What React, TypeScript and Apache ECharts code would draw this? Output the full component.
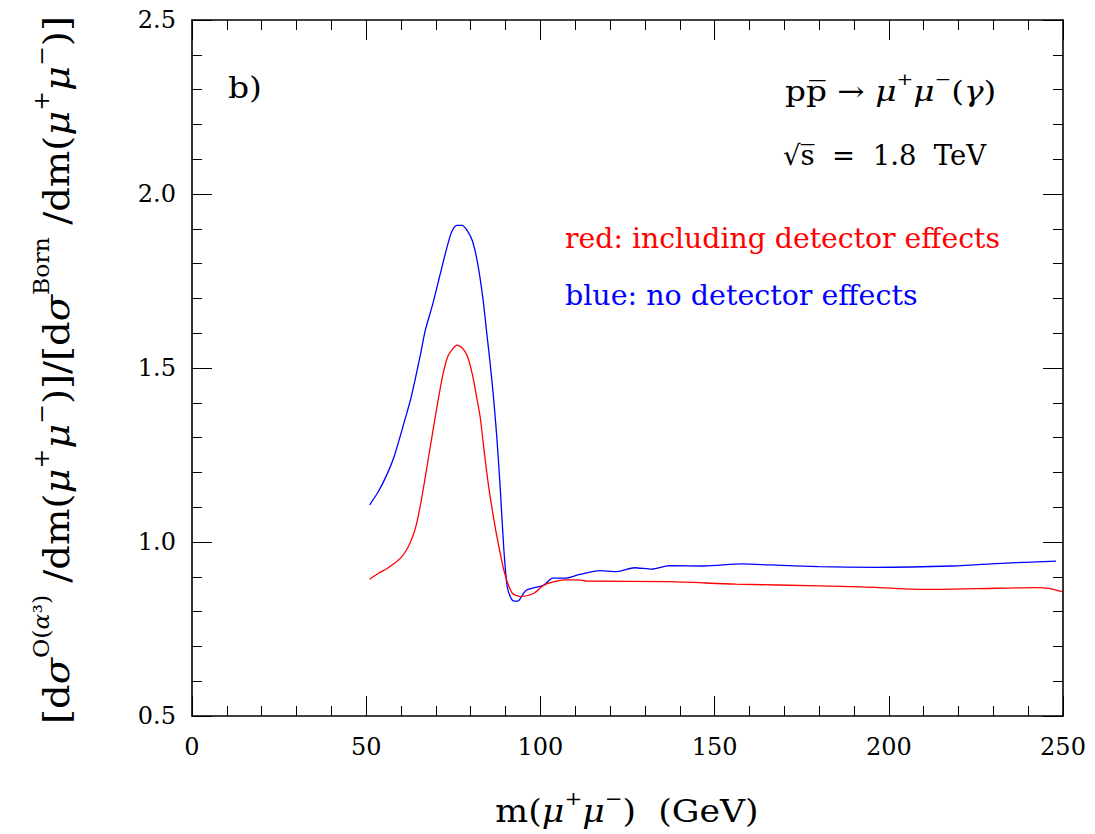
import React, { useEffect, useRef } from "react";
import * as echarts from "echarts";

// ---- data ----
const xTickValues = [0, 50, 100, 150, 200, 250];
const yTickValues = [0.5, 1.0, 1.5, 2.0, 2.5];

const blueMass = [51, 53.5, 56, 58, 60.5, 63, 65.5, 67, 69, 71, 73, 74.5, 76, 77.5, 79, 80.5, 82, 83.5, 84.5, 85.5, 86.5, 87.5, 88.5, 89.5, 90.5, 91.5, 92.5, 93.5, 95, 96, 98, 101, 103.5, 107, 111, 117, 122, 127, 132, 137, 147, 158, 166, 180, 196, 218, 235, 248];
const blueRatio = [1.107, 1.145, 1.195, 1.245, 1.33, 1.42, 1.535, 1.61, 1.68, 1.76, 1.84, 1.89, 1.91, 1.91, 1.895, 1.865, 1.8, 1.7, 1.61, 1.52, 1.42, 1.3, 1.15, 0.98, 0.87, 0.84, 0.83, 0.83, 0.85, 0.862, 0.868, 0.876, 0.896, 0.896, 0.906, 0.918, 0.915, 0.926, 0.922, 0.932, 0.931, 0.937, 0.934, 0.929, 0.927, 0.931, 0.94, 0.945];

const redMass = [51, 53.5, 56, 58, 60, 62, 63.5, 64.5, 66, 68, 70, 72, 73.5, 75, 76, 77.5, 79, 80.5, 82, 82.7, 84, 85, 86.5, 88, 89.5, 90.5, 92, 94.5, 98, 101, 104, 107, 111, 113, 137, 156, 180, 192, 211, 225, 242, 246, 250];
const redRatio = [0.893, 0.91, 0.924, 0.938, 0.955, 0.985, 1.02, 1.054, 1.13, 1.25, 1.37, 1.48, 1.535, 1.557, 1.566, 1.558, 1.535, 1.48, 1.4, 1.36, 1.25, 1.17, 1.073, 0.99, 0.92, 0.885, 0.852, 0.843, 0.852, 0.876, 0.886, 0.891, 0.891, 0.888, 0.886, 0.879, 0.874, 0.871, 0.864, 0.866, 0.869, 0.867, 0.857];

const SERIF = "DejaVu Serif";

function richSet(size: number, supSize: number, lh: number) {
  const n = { fontFamily: SERIF, fontSize: size, color: "#000", verticalAlign: "bottom", lineHeight: lh };
  const g = { ...n, fontStyle: "italic" };
  const s = { fontFamily: SERIF, fontSize: supSize, color: "#000", verticalAlign: "top", lineHeight: lh };
  const sg = { ...s, fontStyle: "italic" };
  return { n, g, s, sg };
}

export default function App() {
  const ref = useRef<HTMLDivElement>(null);

  useEffect(() => {
    const chart = echarts.init(ref.current!, null, { renderer: "svg" });

    const blueData = blueMass.map((m, i) => [m, blueRatio[i]]);
    const redData = redMass.map((m, i) => [m, redRatio[i]]);

    const tickCommon = {
      axisLine: { show: true, onZero: false, lineStyle: { color: "#000", width: 1.6 } },
      axisTick: { show: true, inside: true, length: 20, lineStyle: { color: "#000", width: 1 } },
      minorTick: { show: true, splitNumber: 5, length: 10, lineStyle: { color: "#000", width: 1 } },
      splitLine: { show: false },
      minorSplitLine: { show: false },
    };

    const labelStyle = { fontFamily: SERIF, fontSize: 24, color: "#000" };

    chart.setOption({
      animation: false,
      backgroundColor: "#fff",
      grid: { left: 192, right: 32, top: 20, bottom: 118, containLabel: false },
      xAxis: [
        {
          type: "value", min: xTickValues[0], max: xTickValues[xTickValues.length - 1], interval: 50,
          position: "bottom", ...tickCommon,
          axisLabel: { ...labelStyle, margin: 19 },
        },
        {
          type: "value", min: xTickValues[0], max: xTickValues[xTickValues.length - 1], interval: 50,
          position: "top", ...tickCommon, axisLabel: { show: false },
        },
      ],
      yAxis: [
        {
          type: "value", min: yTickValues[0], max: yTickValues[yTickValues.length - 1], interval: 0.5,
          position: "left", ...tickCommon,
          axisLabel: { ...labelStyle, margin: 16, formatter: (v: number) => v.toFixed(1) },
        },
        {
          type: "value", min: yTickValues[0], max: yTickValues[yTickValues.length - 1], interval: 0.5,
          position: "right", ...tickCommon, axisLabel: { show: false },
        },
      ],
      series: [
        {
          type: "line", name: "blue", data: blueData, xAxisIndex: 0, yAxisIndex: 0,
          showSymbol: false, smooth: 0.25, lineStyle: { color: "#0000ff", width: 1.3 },
        },
        {
          type: "line", name: "red", data: redData, xAxisIndex: 0, yAxisIndex: 0,
          showSymbol: false, smooth: 0.25, lineStyle: { color: "#ff0000", width: 1.3 },
        },
      ],
      graphic: [
        {
          type: "text", x: 228, y: 88, scaleX: 1.1,
          style: { text: "b)", fontFamily: SERIF, fontSize: 30, fill: "#000", align: "left", verticalAlign: "middle" },
        },
        {
          type: "text", x: 785, y: 88, scaleX: 1.17,
          style: {
            text: "{n|pp\u0305 → }{g|μ}{s|+}{g|μ}{s|−}{n|(}{g|γ}{n|)}",
            align: "left", verticalAlign: "middle",
            rich: richSet(28, 17, 34),
          },
        },
        {
          type: "text", x: 783, y: 155,
          style: { text: "√s\u0305  =  1.8  TeV", fontFamily: SERIF, fontSize: 27.5, fill: "#000", align: "left", verticalAlign: "middle" },
        },
        {
          type: "text", x: 565, y: 238,
          style: { text: "red: including detector effects", fontFamily: SERIF, fontSize: 28.3, fill: "#ff0000", align: "left", verticalAlign: "middle" },
        },
        {
          type: "text", x: 565, y: 295,
          style: { text: "blue: no detector effects", fontFamily: SERIF, fontSize: 28.5, fill: "#0000ff", align: "left", verticalAlign: "middle" },
        },
        {
          type: "text", x: 627, y: 808, scaleX: 1.12,
          style: {
            text: "{n|m(}{g|μ}{s|+}{g|μ}{s|−}{n|)  (GeV)}",
            align: "center", verticalAlign: "middle",
            rich: richSet(31, 19, 38),
          },
        },
        {
          type: "text", x: 52, y: 370, rotation: Math.PI / 2, scaleX: 1.07,
          style: {
            text: "{n|[d}{g|σ}{s|O(}{sg|α}{s|³)}{n| /dm(}{g|μ}{s|+}{g|μ}{s|−}{n|)]/[d}{g|σ}{s|Born}{n| /dm(}{g|μ}{s|+}{g|μ}{s|−}{n|)]}",
            align: "center", verticalAlign: "middle",
            rich: richSet(36, 22, 44),
          },
        },
      ],
    });

    return () => chart.dispose();
  }, []);

  return (
    <div
      ref={ref}
      style={{ position: "absolute", left: 0, top: 0, width: 1095, height: 834, background: "#fff" }}
    />
  );
}
